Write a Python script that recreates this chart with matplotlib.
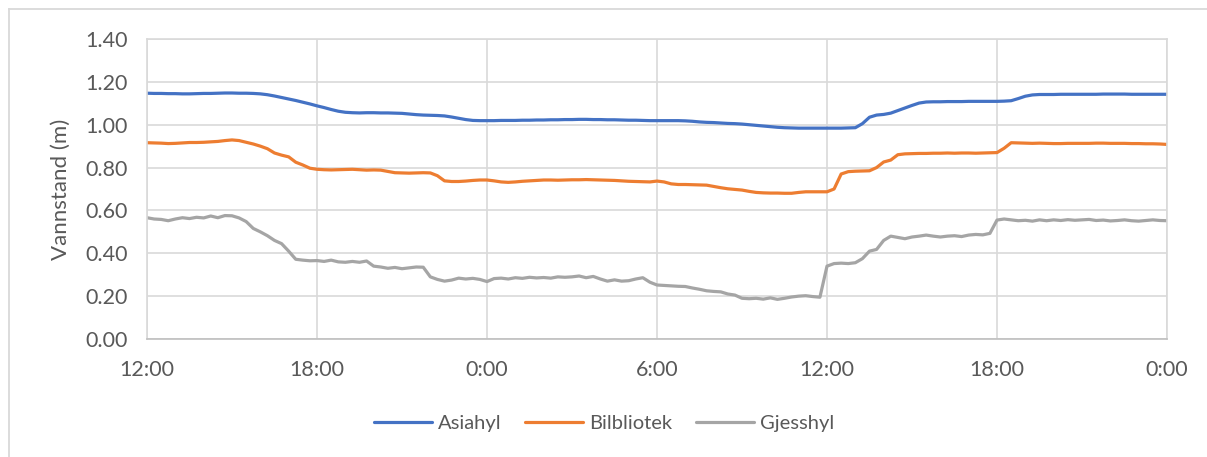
import numpy as np
import matplotlib
matplotlib.use("Agg")
import matplotlib.pyplot as plt
from matplotlib.lines import Line2D

# Hours since 12:00 on day 1, sampled every 15 minutes (0 .. 36 h)
step_hours = 0.25
tick_labels = ["12:00", "18:00", "0:00", "6:00", "12:00", "18:00", "0:00"]
series_names = ["Asiahyl", "Bilbliotek", "Gjesshyl"]

asiahyl = [
    1.147, 1.146, 1.146, 1.145, 1.145, 1.144, 1.144, 1.145, 1.146, 1.146, 1.147, 1.148,
    1.148, 1.147, 1.147, 1.146, 1.144, 1.140, 1.134, 1.127, 1.120, 1.113, 1.105, 1.097,
    1.088, 1.080, 1.071, 1.063, 1.058, 1.056, 1.055, 1.056, 1.056, 1.055, 1.055, 1.054,
    1.053, 1.050, 1.047, 1.045, 1.044, 1.043, 1.041, 1.036, 1.030, 1.024, 1.020, 1.019,
    1.019, 1.019, 1.020, 1.020, 1.020, 1.021, 1.021, 1.022, 1.022, 1.023, 1.023, 1.024,
    1.024, 1.025, 1.025, 1.024, 1.024, 1.023, 1.023, 1.022, 1.021, 1.021, 1.020, 1.019,
    1.019, 1.019, 1.019, 1.019, 1.018, 1.016, 1.013, 1.011, 1.010, 1.008, 1.006, 1.005,
    1.003, 1.000, 0.997, 0.994, 0.991, 0.988, 0.986, 0.985, 0.984, 0.984, 0.984, 0.984,
    0.984, 0.984, 0.984, 0.985, 0.986, 1.005, 1.035, 1.045, 1.048, 1.054, 1.066, 1.078,
    1.090, 1.101, 1.106, 1.107, 1.107, 1.108, 1.108, 1.108, 1.109, 1.109, 1.109, 1.109,
    1.109, 1.110, 1.112, 1.122, 1.133, 1.139, 1.141, 1.141, 1.141, 1.142, 1.142, 1.142,
    1.142, 1.142, 1.142, 1.143, 1.143, 1.143, 1.143, 1.142, 1.142, 1.142, 1.142, 1.142,
    1.142,
]

bilbliotek = [
    0.916, 0.915, 0.914, 0.912, 0.913, 0.915, 0.917, 0.917, 0.918, 0.920, 0.922, 0.926,
    0.929, 0.926, 0.918, 0.910, 0.900, 0.888, 0.868, 0.858, 0.850, 0.825, 0.812, 0.797,
    0.792, 0.790, 0.789, 0.790, 0.791, 0.792, 0.790, 0.788, 0.789, 0.788, 0.782, 0.776,
    0.775, 0.774, 0.775, 0.776, 0.775, 0.762, 0.738, 0.735, 0.735, 0.737, 0.740, 0.742,
    0.742, 0.738, 0.733, 0.731, 0.733, 0.736, 0.738, 0.740, 0.742, 0.742, 0.741, 0.742,
    0.743, 0.743, 0.744, 0.743, 0.742, 0.741, 0.740, 0.738, 0.736, 0.735, 0.734, 0.733,
    0.737, 0.733, 0.724, 0.721, 0.721, 0.720, 0.719, 0.718, 0.712, 0.706, 0.701, 0.698,
    0.695, 0.689, 0.684, 0.682, 0.681, 0.681, 0.680, 0.680, 0.684, 0.687, 0.687, 0.687,
    0.687, 0.700, 0.770, 0.781, 0.783, 0.784, 0.785, 0.800, 0.826, 0.835, 0.860, 0.864,
    0.865, 0.866, 0.866, 0.867, 0.867, 0.868, 0.867, 0.868, 0.868, 0.867, 0.868, 0.869,
    0.870, 0.890, 0.916, 0.915, 0.914, 0.913, 0.914, 0.913, 0.912, 0.912, 0.913, 0.913,
    0.913, 0.913, 0.914, 0.914, 0.913, 0.913, 0.913, 0.912, 0.912, 0.911, 0.911, 0.910,
    0.908,
]

gjesshyl = [
    0.566, 0.560, 0.558, 0.552, 0.560, 0.566, 0.562, 0.568, 0.565, 0.574, 0.566, 0.576,
    0.575, 0.565, 0.548, 0.516, 0.500, 0.482, 0.460, 0.445, 0.410, 0.372, 0.368, 0.365,
    0.366, 0.362, 0.368, 0.360, 0.358, 0.362, 0.358, 0.364, 0.340, 0.336, 0.330, 0.334,
    0.328, 0.332, 0.336, 0.335, 0.290, 0.278, 0.270, 0.275, 0.284, 0.280, 0.283, 0.278,
    0.268, 0.282, 0.284, 0.280, 0.286, 0.283, 0.288, 0.285, 0.287, 0.284, 0.290, 0.288,
    0.290, 0.294, 0.286, 0.292, 0.280, 0.270, 0.276, 0.270, 0.272, 0.280, 0.286, 0.265,
    0.252, 0.250, 0.248, 0.246, 0.245, 0.238, 0.232, 0.225, 0.222, 0.220, 0.210, 0.205,
    0.190, 0.188, 0.190, 0.186, 0.192, 0.185, 0.190, 0.196, 0.200, 0.202, 0.198, 0.195,
    0.340, 0.352, 0.354, 0.352, 0.356, 0.375, 0.410, 0.418, 0.460, 0.480, 0.474, 0.468,
    0.476, 0.480, 0.485, 0.480, 0.476, 0.480, 0.482, 0.478, 0.485, 0.488, 0.486, 0.493,
    0.555, 0.560, 0.556, 0.552, 0.554, 0.550, 0.556, 0.552, 0.556, 0.553, 0.557, 0.554,
    0.556, 0.558, 0.553, 0.555, 0.551, 0.553, 0.556, 0.552, 0.550, 0.553, 0.556, 0.553,
    0.552,
]

colors = ["#4472C4", "#ED7D31", "#A5A5A5"]
text_color = "#595959"
grid_color = "#D9D9D9"

plt.rcParams["font.family"] = ["Lato", "DejaVu Sans"]

W, H = 1207, 457
fig = plt.figure(figsize=(W / 100, H / 100), dpi=100)
fig.patch.set_facecolor("white")

# outer chart border (only top and left edges fall inside the image)
fig.lines.append(Line2D([8.5 / W, 8.5 / W], [0, (H - 8.5) / H], transform=fig.transFigure,
                        color=grid_color, linewidth=1.3))
fig.lines.append(Line2D([8.5 / W, 1], [(H - 8.5) / H, (H - 8.5) / H], transform=fig.transFigure,
                        color=grid_color, linewidth=1.3))

ax = fig.add_axes([147 / W, (H - 339) / H, (1167 - 147) / W, (339 - 39) / H])

t = np.arange(len(asiahyl)) * step_hours
for name, vals, c in zip(series_names, [asiahyl, bilbliotek, gjesshyl], colors):
    ax.plot(t, vals, color=c, linewidth=2.3, label=name, solid_capstyle="round")

ax.set_xlim(0, 36)
ax.set_ylim(0, 1.4)
ax.set_xticks(np.arange(0, 37, 6))
ax.set_xticklabels(tick_labels)
ax.set_yticks(np.arange(0, 1.41, 0.2))
ax.set_yticklabels([f"{v:.2f}" for v in np.arange(0, 1.41, 0.2)])
ax.tick_params(axis="both", length=0, labelsize=15.5, colors=text_color)
ax.tick_params(axis="x", pad=15)
ax.tick_params(axis="y", pad=14)
ax.grid(True, color=grid_color, linewidth=1.2)
ax.set_axisbelow(True)
for s in ["left", "right", "top"]:
    ax.spines[s].set_color(grid_color)
    ax.spines[s].set_linewidth(1.2)
ax.spines["bottom"].set_color("#BFBFBF")
ax.spines["bottom"].set_linewidth(1.2)

ax.set_ylabel("Vannstand (m)", fontsize=16, color=text_color)
ax.yaxis.set_label_coords((71 - 147) / (1167 - 147), 0.5)

leg = fig.legend(loc="center", bbox_to_anchor=(604 / W, (H - 423) / H), ncol=3,
                 frameon=False, fontsize=14.5, handlelength=2.9, handletextpad=0.3,
                 columnspacing=1.15)
for txt in leg.get_texts():
    txt.set_color(text_color)

fig.savefig("out.png", dpi=100, facecolor="white")
